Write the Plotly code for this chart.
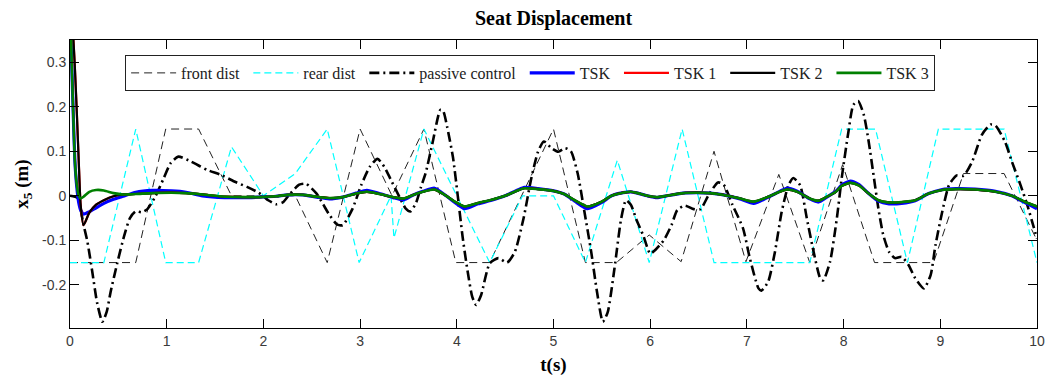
import plotly.graph_objects as go

# ---------------- data ----------------
front_t = [0, 0.68, 0.99, 1.33, 1.67, 2.33, 2.66, 3.0, 3.33, 3.66, 3.99, 4.34, 5.0, 5.33, 5.65,
           5.99, 6.32, 6.66, 6.99, 7.33, 7.65, 7.99, 8.32, 8.93, 9.24, 9.66, 10.0]
front_y = [-0.15, -0.15, 0.15, 0.15, 0.0, 0.0, -0.15, 0.15, 0.0, 0.15, -0.15, -0.15, 0.15, -0.15, -0.15,
           -0.088, -0.148, 0.1, -0.148, 0.048, -0.15, 0.07, -0.15, -0.15, 0.05, 0.05, -0.1]

rear_t = [0, 0.35, 0.68, 0.99, 1.33, 1.67, 2.0, 2.33, 2.66, 2.99, 3.32, 3.35, 3.66, 4.34, 4.68, 5.0,
          5.33, 5.66, 5.99, 6.33, 6.66, 7.65, 7.98, 8.33, 8.66, 8.98, 9.66, 10.0]
rear_y = [-0.15, -0.15, 0.15, -0.15, -0.15, 0.11, 0.0, 0.05, 0.15, -0.15, 0.0, -0.095, 0.15, -0.15, 0.0, 0.0,
          -0.15, 0.08, -0.15, 0.15, -0.15, -0.15, 0.15, 0.15, -0.15, 0.15, 0.15, -0.15]

passive_t = [0, 0.08, 0.11, 0.14, 0.18, 0.23, 0.28, 0.335, 0.38, 0.42, 0.49, 0.56, 0.62, 0.68, 0.74, 0.80,
             0.886, 0.97, 1.04, 1.12, 1.25, 1.42, 1.56, 1.70, 1.83, 1.95, 2.05, 2.13, 2.2, 2.27, 2.37,
             2.44, 2.55, 2.62, 2.68, 2.76, 2.82, 2.92, 3.01, 3.10, 3.18, 3.25, 3.30, 3.41, 3.47, 3.52,
             3.58, 3.63, 3.68, 3.75, 3.83, 3.86, 3.90, 3.96, 4.01, 4.06, 4.11, 4.16, 4.20, 4.25, 4.34,
             4.43, 4.52, 4.60, 4.69, 4.77, 4.84, 4.90, 4.98, 5.05, 5.12, 5.18, 5.25, 5.32, 5.39, 5.45,
             5.51, 5.56, 5.63, 5.70, 5.75, 5.80, 5.86, 5.93, 6.0, 6.06, 6.14, 6.22, 6.28, 6.36, 6.45,
             6.52, 6.6, 6.7, 6.76, 6.85, 6.96, 7.03, 7.12, 7.15, 7.22, 7.29, 7.36, 7.43, 7.48, 7.55,
             7.62, 7.69, 7.76, 7.79, 7.86, 7.93, 7.98, 8.05, 8.10, 8.15, 8.21, 8.26, 8.31, 8.36, 8.41,
             8.47, 8.53, 8.60, 8.67, 8.74, 8.83, 8.90, 8.95, 9.02, 9.09, 9.17, 9.24, 9.33, 9.43, 9.52,
             9.57, 9.67, 9.74, 9.83, 9.90, 9.96, 10.0]
passive_y = [0.0, -0.005, -0.03, -0.065, -0.103, -0.17, -0.24, -0.283, -0.26, -0.216, -0.15, -0.09, -0.05,
             -0.035, -0.037, -0.03, 0.0, 0.04, 0.073, 0.088, 0.077, 0.058, 0.047, 0.032, 0.02, 0.007,
             -0.01, -0.019, -0.015, 0.003, 0.025, 0.027, 0.005, -0.02, -0.042, -0.064, -0.066, -0.03,
             0.023, 0.065, 0.083, 0.065, 0.044, -0.004, -0.028, -0.035, -0.015, 0.02, 0.053, 0.12,
             0.193, 0.19, 0.155, 0.087, 0.0, -0.092, -0.167, -0.227, -0.245, -0.224, -0.152, -0.14,
             -0.15, -0.126, -0.051, 0.039, 0.099, 0.122, 0.107, 0.099, 0.107, 0.1, 0.05, -0.036,
             -0.126, -0.216, -0.283, -0.262, -0.164, -0.051, -0.01, -0.02, -0.055, -0.09, -0.13,
             -0.12, -0.1, -0.066, -0.032, -0.022, -0.03, -0.03, 0.0, 0.03, 0.025, -0.02, -0.073, -0.14,
             -0.208, -0.213, -0.193, -0.126, -0.036, 0.024, 0.04, 0.024, -0.051, -0.126, -0.186, -0.19,
             -0.148, -0.051, 0.039, 0.144, 0.204, 0.213, 0.181, 0.121, 0.046, -0.029, -0.088, -0.126,
             -0.14, -0.137, -0.155, -0.185, -0.208, -0.178, -0.111, -0.036, 0.024, 0.046, 0.045, 0.077,
             0.137, 0.16, 0.158, 0.121, 0.077, 0.024, -0.021, -0.066, -0.096]

tsk_t = [0, 0.012, 0.03, 0.05, 0.07, 0.09, 0.11, 0.14, 0.2, 0.27, 0.35, 0.45, 0.55, 0.68, 0.85, 1.05,
         1.2, 1.37, 1.6, 1.85, 1.96, 2.13, 2.25, 2.41, 2.55, 2.68, 2.82, 2.96, 3.07, 3.2, 3.34, 3.45,
         3.55, 3.65, 3.77, 3.89, 3.98, 4.08, 4.22, 4.36, 4.5, 4.63, 4.7, 4.84, 5.0, 5.11, 5.22, 5.35,
         5.5, 5.6, 5.72, 5.8, 5.87, 5.97, 6.07, 6.17, 6.34, 6.48, 6.62, 6.76, 6.93, 7.07, 7.21, 7.34,
         7.41, 7.52, 7.65, 7.74, 7.82, 7.92, 7.98, 8.07, 8.16, 8.26, 8.36, 8.47, 8.6, 8.74, 8.88, 9.02,
         9.16, 9.36, 9.57, 9.74, 9.88, 10.0]

tsk_y = [0.45, 0.34, 0.21, 0.08, 0.02, -0.015, -0.032, -0.041, -0.036, -0.027, -0.017, -0.008, -0.001,
         0.008, 0.012, 0.011, 0.008, 0.0, -0.004, -0.004, -0.003, -0.001, 0.002, 0.002, -0.003, -0.007,
         -0.003, 0.006, 0.012, 0.005, -0.004, -0.009, 0.002, 0.01, 0.017, 0.0, -0.015, -0.029, -0.018,
         -0.01, 0.0, 0.013, 0.019, 0.016, 0.011, 0.004, -0.012, -0.029, -0.015, 0.0, 0.007, 0.009, 0.006,
         0.0, -0.004, 0.0, 0.006, 0.007, 0.006, 0.002, -0.007, -0.017, -0.004, 0.01, 0.017, 0.01, -0.007,
         -0.014, -0.004, 0.01, 0.024, 0.033, 0.025, 0.005, -0.012, -0.018, -0.017, -0.011, 0.005, 0.014,
         0.016, 0.015, 0.01, 0.0, -0.016, -0.029]

tsk2_y = [0.45, 0.42, 0.37, 0.29, 0.19, 0.08, -0.02, -0.066, -0.038, -0.02, -0.01, -0.001, 0.003,
          0.004, 0.006, 0.007, 0.006, 0.003, -0.002, -0.003, -0.003, -0.001, 0.002, 0.002, -0.002, -0.005,
          -0.003, 0.005, 0.009, 0.004, -0.003, -0.006, 0.002, 0.009, 0.014, 0.0, -0.013, -0.024, -0.016,
          -0.009, 0.0, 0.012, 0.017, 0.015, 0.011, 0.004, -0.01, -0.024, -0.013, 0.0, 0.007, 0.009, 0.006,
          0.0, -0.003, 0.0, 0.006, 0.007, 0.006, 0.002, -0.006, -0.013, -0.003, 0.009, 0.014, 0.009, -0.006,
          -0.011, -0.003, 0.009, 0.022, 0.029, 0.023, 0.005, -0.01, -0.015, -0.014, -0.01, 0.005, 0.013,
          0.015, 0.014, 0.009, 0.0, -0.014, -0.024]

tsk3_y = [0.45, 0.34, 0.21, 0.08, 0.025, 0.0, -0.006, -0.002, 0.009, 0.013, 0.012, 0.006, 0.003,
          0.004, 0.006, 0.007, 0.006, 0.003, -0.002, -0.003, -0.003, -0.001, 0.002, 0.002, -0.002, -0.005,
          -0.003, 0.005, 0.009, 0.004, -0.003, -0.006, 0.002, 0.009, 0.014, 0.0, -0.013, -0.024, -0.016,
          -0.009, 0.0, 0.012, 0.017, 0.015, 0.011, 0.004, -0.01, -0.024, -0.013, 0.0, 0.007, 0.009, 0.006,
          0.0, -0.003, 0.0, 0.006, 0.007, 0.006, 0.002, -0.006, -0.013, -0.003, 0.009, 0.014, 0.009, -0.006,
          -0.011, -0.003, 0.009, 0.022, 0.029, 0.023, 0.005, -0.01, -0.015, -0.014, -0.01, 0.005, 0.013,
          0.015, 0.014, 0.009, 0.0, -0.014, -0.024]

# the red TSK 1 curve lies completely hidden under TSK 2 / TSK 3
tsk1_y = tsk2_y

series_names = ["front dist", "rear dist", "passive control", "TSK", "TSK 1", "TSK 2", "TSK 3"]

x_ticks = [0, 1, 2, 3, 4, 5, 6, 7, 8, 9, 10]
y_ticks = [-0.2, -0.1, 0, 0.1, 0.2, 0.3]
y_tick_text = ["-0.2", "-0.1", "0", "0.1", "0.2", "0.3"]

# ---------------- figure ----------------
PAD = "\u00a0"   # spacing after a legend label
def label(i):
    return series_names[i] + (PAD if i < len(series_names) - 1 else "")

fig = go.Figure()
fig.add_trace(go.Scatter(x=front_t, y=front_y, mode="lines", name=label(0),
                         line=dict(color="#222222", width=1, dash="8px,5px")))
fig.add_trace(go.Scatter(x=rear_t, y=rear_y, mode="lines", name=label(1),
                         line=dict(color="#00FFFF", width=1.2, dash="7px,4px")))
fig.add_trace(go.Scatter(x=passive_t, y=passive_y, mode="lines", name=label(2),
                         line=dict(color="black", width=2.6, dash="10px,4px,2px,4px", shape="spline",
                                   smoothing=0.6)))
fig.add_trace(go.Scatter(x=tsk_t, y=tsk_y, mode="lines", name=label(3),
                         line=dict(color="#0000FF", width=3.2, shape="spline", smoothing=0.6)))
fig.add_trace(go.Scatter(x=tsk_t, y=tsk1_y, mode="lines", name=label(4),
                         line=dict(color="#FF0000", width=2.2, shape="spline", smoothing=0.6)))
fig.add_trace(go.Scatter(x=tsk_t, y=tsk2_y, mode="lines", name=label(5),
                         line=dict(color="black", width=2.2, shape="spline", smoothing=0.6)))
fig.add_trace(go.Scatter(x=tsk_t, y=tsk3_y, mode="lines", name=label(6),
                         line=dict(color="#008000", width=2.6, shape="spline", smoothing=0.6)))

tick_font = dict(family="Liberation Sans Narrow, Arial Narrow, Liberation Sans, Arial, sans-serif",
                 size=14, color="#3a3a3a")
serif = "Liberation Serif, Times New Roman, serif"

fig.update_layout(
    width=1047, height=376,
    margin=dict(l=70, r=10, t=40, b=48),
    paper_bgcolor="white", plot_bgcolor="white",
    title=dict(text="<b>Seat Displacement</b>", x=0.5, xref="paper", y=1 - 18 / 376, yref="container",
               yanchor="middle", xanchor="center",
               font=dict(family=serif, size=20, color="black")),
    showlegend=True,
    legend=dict(orientation="h", x=0.057, y=0.948, xanchor="left", yanchor="top",
                bgcolor="white", bordercolor="#222222", borderwidth=1,
                font=dict(family=serif, size=16, color="#222222"),
                itemwidth=45, tracegroupgap=0),
    xaxis=dict(range=[0, 10], tickvals=x_ticks, ticks="inside", ticklen=9, tickcolor="black",
               showline=True, linecolor="black", linewidth=1, mirror="ticks", showgrid=False,
               zeroline=False, tickfont=tick_font, automargin=False,
               title=dict(text="<b>t(s)</b>", standoff=9,
                          font=dict(family=serif, size=19, color="black"))),
    yaxis=dict(range=[-0.297, 0.35], tickvals=y_ticks, ticktext=y_tick_text, ticks="inside", ticklen=9,
               tickcolor="black", showline=True, linecolor="black", linewidth=1, mirror="ticks",
               showgrid=False, zeroline=False, tickfont=tick_font, automargin=False,
               title=dict(text="<b>x<sub>5</sub> (m)</b>", standoff=8,
                          font=dict(family=serif, size=19, color="black"))),
)

fig.write_html("out.html")
